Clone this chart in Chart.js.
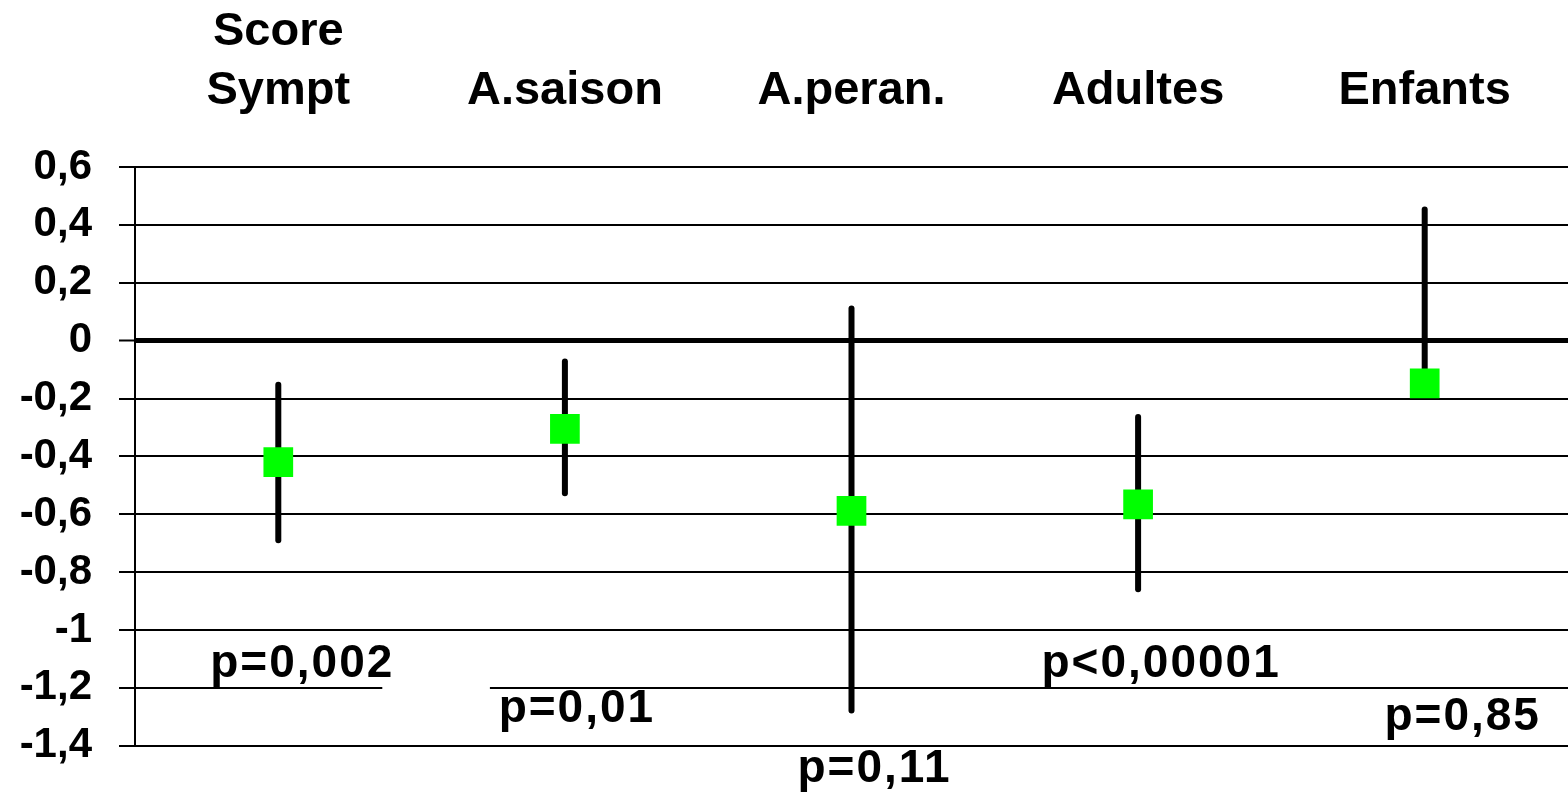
<!DOCTYPE html>
<html>
  <head>
    <title>Score Sympt - p values</title>
    <style>
      html, body{ margin: 0; padding: 0; background-color: #ffffff; }
      .container{ position: relative; width: 1568px; height: 798px; }
    </style>
    <script src="https://cdn.jsdelivr.net/npm/chart.js"></script>
  </head>
  <body>

    <div class="container">
      <canvas id="myChart"></canvas>
    </div>

    <script>
      // Define the data
      const categories = [['Score', 'Sympt'], 'A.saison', 'A.peran.', 'Adultes', 'Enfants'];
      const means = [-0.42, -0.305, -0.588, -0.566, -0.148];
      const lowerCI = [-0.69, -0.527, -1.278, -0.859, -0.15];
      const upperCI = [-0.152, -0.072, 0.111, -0.264, 0.453];
      const pLabels = ['p=0,002', 'p=0,01', 'p=0,11', 'p<0,00001', 'p=0,85'];
      const yTicks = { min: -1.4, max: 0.6, step: 0.2 };

      const boldFont = '"Liberation Sans", Arial, sans-serif';

      // vertical error bars, drawn under the green squares
      const errorBars = {
        id: 'errorBars',
        beforeDatasetsDraw(chart) {
          const c = chart.ctx, x = chart.scales.x, y = chart.scales.y;
          c.save();
          c.strokeStyle = '#000';
          c.lineWidth = 6;
          c.lineCap = 'round';
          lowerCI.forEach((lo, i) => {
            const px = x.getPixelForValue(i);
            c.beginPath();
            c.moveTo(px, y.getPixelForValue(upperCI[i]));
            c.lineTo(px, y.getPixelForValue(lo));
            c.stroke();
          });
          c.restore();
        }
      };

      // p value texts under each column
      const pText = {
        id: 'pText',
        afterDraw(chart) {
          const c = chart.ctx, x = chart.scales.x, y = chart.scales.y;
          const shift = [24, 12, 23, 23, 38];
          const level = [-1.162, -1.317, -1.524, -1.162, -1.345];
          c.save();
          // gap in the -1,2 line between the first two columns
          c.fillStyle = '#fff';
          const gy = y.getPixelForValue(-1.2);
          c.fillRect(x.getPixelForValue(0) + 104, gy - 3, x.getPixelForValue(1) - x.getPixelForValue(0) - 179, 6);
          c.fillStyle = '#000';
          c.font = 'bold 46px ' + boldFont;
          c.letterSpacing = '2px';
          c.textAlign = 'center';
          c.textBaseline = 'alphabetic';
          pLabels.forEach((t, i) => {
            c.fillText(t, x.getPixelForValue(i) + shift[i], y.getPixelForValue(level[i]));
          });
          c.restore();
        }
      };

      // Create the chart
      const ctx = document.getElementById('myChart').getContext('2d');
      const myChart = new Chart(ctx, {
        type: 'line',
        data: {
          labels: categories,
          datasets: [
            {
              data: means,
              showLine: false,
              pointStyle: 'rect',
              pointRadius: 21,
              pointHoverRadius: 21,
              pointBackgroundColor: '#00ff00',
              pointBorderWidth: 0,
              pointHoverBorderWidth: 0
            }
          ]
        },
        options: {
          responsive: true,
          maintainAspectRatio: false,
          animation: false,
          events: [],
          layout: { autoPadding: false, padding: { top: 0, right: 0, bottom: 51, left: 0 } },
          scales: {
            x: {
              position: 'top',
              offset: true,
              grid: { display: false, drawTicks: false, tickLength: 0 },
              border: { display: false },
              ticks: {
                color: '#000',
                padding: 46,
                maxRotation: 0,
                autoSkip: false,
                font: { family: boldFont, size: 47, weight: 'bold', lineHeight: 1.26 }
              },
              afterFit(scale) { scale.height = 167; }
            },
            y: {
              min: yTicks.min,
              max: yTicks.max,
              grid: {
                color: '#000',
                lineWidth: (c) => (c.tick && Math.abs(c.tick.value) < 1e-9 ? 5 : 2),
                tickWidth: 2,
                tickLength: 16
              },
              border: { display: true, color: '#000', width: 2 },
              ticks: {
                stepSize: yTicks.step,
                color: '#000',
                padding: 27,
                font: { family: boldFont, size: 42, weight: 'bold' },
                callback: (v) => {
                  const r = Math.round(v * 10) / 10;
                  return (r === 0 ? '0' : String(r)).replace('.', ',');
                }
              },
              afterFit(scale) { scale.width = 135; }
            }
          },
          plugins: {
            legend: { display: false },
            tooltip: { enabled: false },
            title: { display: false }
          }
        },
        plugins: [errorBars, pText]
      });
    </script>
  </body>
</html>
